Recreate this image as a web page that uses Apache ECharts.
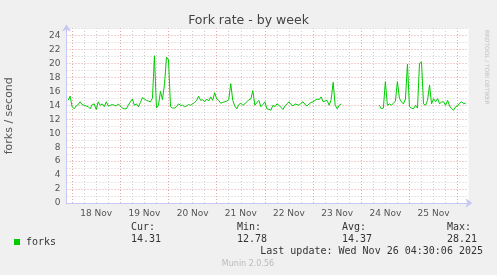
<!DOCTYPE html>
<html><head><meta charset="utf-8">
<script src="https://cdn.jsdelivr.net/npm/echarts@6/dist/echarts.min.js"></script>
<style>html,body{margin:0;padding:0;background:#f0f0f0}#c{width:497px;height:275px}</style>
</head><body><div id="c"></div>
<script>
// x = hours relative to 18 Nov 00:00, one sample per hour
const startHour = -2;
const forks = [
  14.7, 15.3, 13.8, 13.5, 13.9, 14.1, 14.5, 14.1, 14.0, 13.9, 13.8, 13.5,
  14.1, 14.2, 13.4, 14.5, 14.0, 14.2, 13.8, 14.5, 13.9, 14.0, 14.1, 14.0,
  13.9, 14.2, 13.9, 13.6, 13.5, 13.5, 14.0, 14.5, 14.9, 14.0, 14.2, 13.8,
  14.4, 15.1, 14.9, 14.7, 14.6, 14.5, 15.0, 21.1, 13.6, 14.0, 16.0, 14.8,
  17.0, 20.9, 20.5, 13.8, 13.6, 13.6, 13.8, 14.2, 14.0, 14.0, 13.8, 13.9,
  14.1, 14.0, 14.2, 14.4, 14.7, 15.3, 14.7, 14.8, 14.5, 14.9, 14.6, 15.2,
  14.7, 15.8, 14.9, 14.7, 14.3, 14.4, 14.5, 14.6, 14.8, 17.1, 14.7, 13.9,
  13.5, 14.1, 14.3, 14.0, 14.2, 14.5, 14.8, 14.9, 16.1, 14.0, 14.4, 14.7,
  13.8, 14.1, 14.5, 13.5, 13.4, 13.3, 14.0, 13.8, 14.2, 14.0, 13.7, 13.4,
  13.9, 14.2, 14.5, 14.1, 13.9, 14.2, 14.1, 14.0, 14.3, 14.5, 14.1, 13.9,
  14.2, 14.4, 14.5, 14.7, 14.9, 14.8, 15.2, 14.5, 14.6, 14.7, 14.0, 14.8,
  17.3, 14.0, 13.5, 14.0, 14.2,
  null, null, null, null, null, null, null, null, null,
  null, null, null, null, null, null, null, null, null,
  14.0, 13.5, 13.6, 17.4, 14.0, 14.2, 14.0, 14.3, 14.6, 17.4, 15.0, 14.5,
  14.2, 14.9, 19.9, 13.8, 13.6, 13.5, 14.0, 13.6, 20.0, 20.2, 14.2, 14.0,
  14.7, 16.9, 14.2, 14.95, 14.5, 14.95, 14.2, 14.5, 14.5, 14.0, 14.7, 13.9,
  13.5, 13.3, 13.8, 13.9, 14.3, 14.5, 14.2, 14.3
];
const xMin = -2.8, xMax = 197.4;
const dayLabels = ['18 Nov', '19 Nov', '20 Nov', '21 Nov', '22 Nov', '23 Nov', '24 Nov', '25 Nov'];
const labelHours = [12, 36, 60, 84, 108, 132, 156, 180];
const midnightHours = [0, 24, 48, 72, 96, 120, 144, 168, 192];
const quarterHours = [6, 12, 18, 30, 36, 42, 54, 60, 66, 78, 84, 90, 102, 108, 114,
  126, 132, 138, 150, 156, 162, 174, 180, 186];
const yMajor = [0, 2, 4, 6, 8, 10, 12, 14, 16, 18, 20, 22, 24];
const statNames = ['Cur:', 'Min:', 'Avg:', 'Max:'];
const statValues = ['14.31', '12.78', '14.37', '28.21'];
const statX = [131, 237, 342, 447];

const seriesData = forks.map((v, i) => [startHour + i, v]);
const axisCol = '#c8c8f4';
const majorCol = '#e4a8a8';
const hMajorCol = '#e0a0a0';
const minorCol = '#d0d0d0';
const mono = 'DejaVu Sans Mono';
const sans = 'DejaVu Sans';

const graphics = [];
statNames.forEach((s, i) => {
  graphics.push({type: 'text', left: statX[i], top: 222, style: {text: s, font: '10px "' + mono + '"', fill: '#333'}});
  graphics.push({type: 'text', left: statX[i], top: 234, style: {text: statValues[i], font: '10px "' + mono + '"', fill: '#333'}});
});
graphics.push({type: 'text', right: 14, top: 246, style: {text: 'Last update: Wed Nov 26 04:30:06 2025', font: '10px "' + mono + '"', fill: '#333'}});
graphics.push({type: 'text', x: 248, y: 264, style: {text: 'Munin 2.0.56', font: '8px "' + sans + '"', fill: '#bbb', align: 'center', verticalAlign: 'middle'}});
graphics.push({type: 'text', x: 487, y: 30, rotation: -Math.PI / 2, style: {text: 'RRDTOOL / TOBI OETIKER', font: '5.8px "' + sans + '"', fill: '#c4c4c4', align: 'left', verticalAlign: 'middle'}});

function vGrid(name, hours, color) {
  return {
    name: name, type: 'line', data: [], z: 1, silent: true,
    markLine: {
      silent: true, symbol: ['none', 'none'], animation: false,
      label: {show: false}, emphasis: {disabled: true},
      lineStyle: {color: color, type: [1, 2], width: 1},
      data: hours.map(h => ({xAxis: h}))
    }
  };
}

const chart = echarts.init(document.getElementById('c'), null, {renderer: 'canvas'});
chart.setOption({
  animation: false,
  backgroundColor: '#f0f0f0',
  title: {text: 'Fork rate - by week', left: 'center', top: 9,
    textStyle: {fontFamily: sans, fontSize: 12.5, fontWeight: 'normal', color: '#444'}},
  legend: {left: 14, top: 237, padding: 0, icon: 'rect', itemWidth: 6, itemHeight: 6,
    textStyle: {fontFamily: mono, fontSize: 10, color: '#333', padding: [0, 0, 0, 1]}, data: ['forks']},
  grid: {left: 66.5, right: 28.5, top: 28.5, bottom: 72, show: true, backgroundColor: '#ffffff', borderWidth: 0,
    containLabel: false, outerBoundsMode: 'none'},
  xAxis: {
    type: 'value', min: xMin, max: xMax, position: 'bottom',
    axisLine: {show: true, onZero: false, lineStyle: {color: axisCol}, symbol: ['none', 'arrow'], symbolSize: [7, 7], symbolOffset: [0, 4]},
    axisTick: {show: false},
    axisLabel: {customValues: labelHours, formatter: v => dayLabels[labelHours.indexOf(v)] || '',
      fontFamily: sans, fontSize: 9, color: '#555', margin: 6},
    splitLine: {show: false}
  },
  yAxis: {
    type: 'value', min: 0, max: 25, interval: 1,
    axisLine: {show: true, onZero: false, lineStyle: {color: axisCol}, symbol: ['none', 'arrow'], symbolSize: [7, 7], symbolOffset: [0, 4]},
    axisTick: {show: false},
    axisLabel: {customValues: yMajor, fontFamily: sans, fontSize: 9, color: '#555', margin: 6},
    splitLine: {show: true, lineStyle: {color: [hMajorCol, minorCol], type: [1, 2]}},
    name: 'forks / second', nameLocation: 'middle', nameGap: 52,
    nameTextStyle: {fontFamily: sans, fontSize: 11, color: '#555'}
  },
  series: [
    vGrid('minorGrid', quarterHours, minorCol),
    vGrid('majorGrid', midnightHours, majorCol),
    {
      name: 'forks', type: 'line', data: seriesData,
      showSymbol: false, symbol: 'none', connectNulls: false, z: 5,
      lineStyle: {color: '#00cc00', width: 1}, itemStyle: {color: '#00cc00'}
    }
  ],
  graphic: graphics
});
</script></body></html>
